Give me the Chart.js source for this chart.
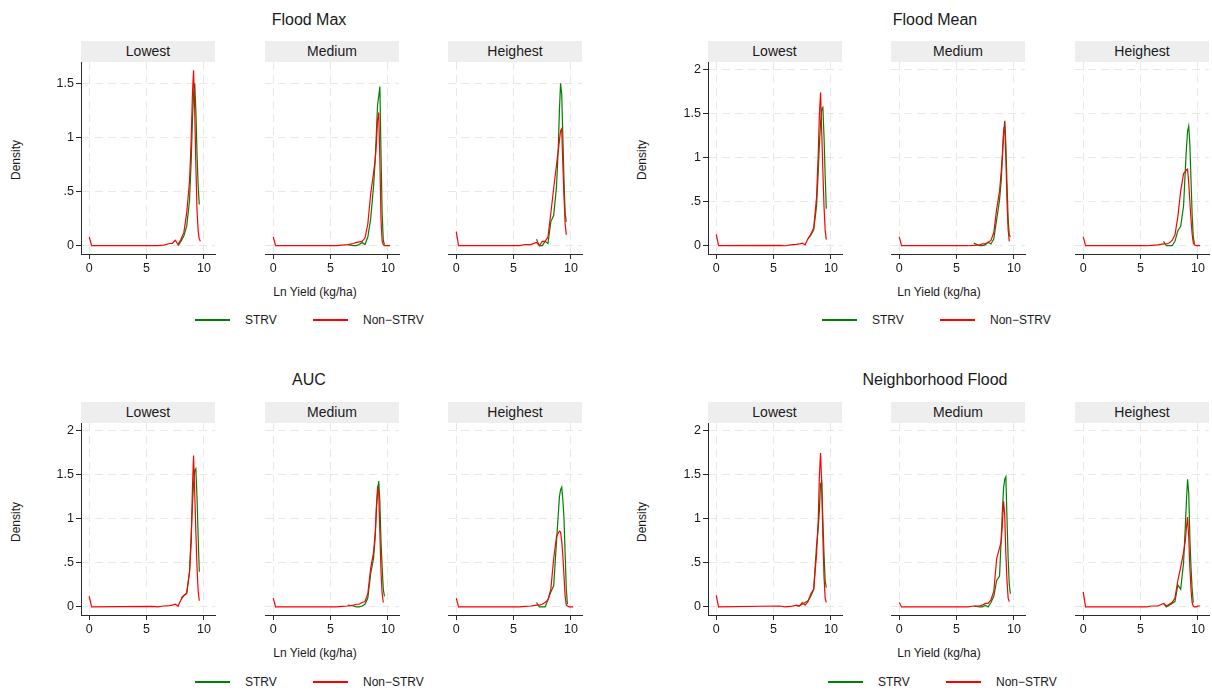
<!DOCTYPE html>
<html>
<head>
<meta charset="utf-8">
<script src="https://cdn.jsdelivr.net/npm/chart.js@4"></script>
<style>
  body { margin: 0; background: #fff; font-family: "Liberation Sans", Arial, sans-serif; color: #1a1a1a; }
  #page { position: relative; width: 1212px; height: 693px; overflow: hidden; }
  #page canvas { position: absolute; }
  .lbl { position: absolute; white-space: nowrap; transform: translate(-50%, -50%); }
  .strip { position: absolute; background: #eeeeee; font-size: 14px; text-align: center; }
  .key { position: absolute; height: 1.5px; }
  .keytxt { position: absolute; font-size: 12px; line-height: 14px; }
</style>
</head>
<body>
<div id="page"></div>
<script>
// x grid shared by every density curve (Ln Yield)
const lnYield = [0, 0.2, 5.5, 6, 6.5, 7, 7.25, 7.5, 7.75, 8, 8.25, 8.5, 8.75, 8.9, 9, 9.1, 9.2, 9.3, 9.4, 9.5, 9.6, 9.7, 9.85, 10, 10.2];

const xTicks = [0, 5, 10];
const yTicksMax = [0, 0.5, 1, 1.5];
const yTicks = [0, 0.5, 1, 1.5, 2];

const panelTitles = ["Flood Max", "Flood Mean", "AUC", "Neighborhood Flood"];
const facets = ["Lowest", "Medium", "Heighest"];
const seriesNames = ["STRV", "Non\u2212STRV"];

// Flood Max
const fmaxLowStrv = [null, null, null, null, null, null, null, null, 0.0, 0.04, 0.09, 0.18, 0.42, 0.8, 1.15, 1.4, 1.5, 1.25, 0.85, 0.55, 0.38, null, null, null, null];
const fmaxLowNon  = [0.08, 0, 0, 0, 0.005, 0.02, 0.02, 0.05, 0.01, 0.06, 0.12, 0.3, 0.6, 1.0, 1.4, 1.62, 1.25, 0.75, 0.33, 0.14, 0.06, 0.04, null, null, null];
const fmaxMedStrv = [null, null, null, null, 0.01, 0.0, 0.0, 0.01, 0.03, 0.01, 0.08, 0.25, 0.55, 0.8, 1.05, 1.3, 1.38, 1.47, 0.85, 0.3, 0.05, 0.01, null, null, null];
const fmaxMedNon  = [0.08, 0, 0, 0.005, 0.01, 0.02, 0.03, 0.035, 0.04, 0.07, 0.2, 0.48, 0.67, 0.8, 0.95, 1.16, 1.23, 0.8, 0.24, 0.04, 0.01, 0, 0, 0, 0];
const fmaxHiStrv  = [null, null, null, null, null, 0.06, 0.0, 0.0, 0.04, 0.02, 0.22, 0.28, 0.55, 0.9, 1.25, 1.5, 1.4, 1.0, 0.6, 0.3, 0.22, null, null, null, null];
const fmaxHiNon   = [0.13, 0, 0, 0.01, 0.01, 0.03, 0.0, 0.04, 0.04, 0.08, 0.3, 0.53, 0.75, 0.88, 0.97, 1.06, 1.08, 0.75, 0.45, 0.2, 0.1, null, null, null, null];

// Flood Mean
const fmeanLowStrv = [null, null, null, null, null, null, null, null, null, 0.08, 0.12, 0.18, 0.45, 0.85, 1.15, 1.4, 1.55, 1.57, 1.25, 0.8, 0.42, null, null, null, null];
const fmeanLowNon  = [0.13, 0, 0.005, 0.0, 0.01, 0.015, 0.02, 0.03, 0.01, 0.08, 0.13, 0.2, 0.55, 1.05, 1.5, 1.74, 1.3, 0.85, 0.45, 0.18, 0.07, null, null, null, null];
const fmeanMedStrv = [null, null, null, null, 0.03, 0.0, 0.0, 0.01, 0.04, 0.02, 0.08, 0.3, 0.52, 0.75, 1.0, 1.25, 1.42, 1.15, 0.7, 0.3, 0.12, 0.1, null, null, null];
const fmeanMedNon  = [0.1, 0, 0, 0, 0.005, 0.01, 0.02, 0.02, 0.04, 0.06, 0.15, 0.42, 0.62, 0.85, 1.05, 1.3, 1.37, 1.0, 0.5, 0.18, 0.05, null, null, null, null];
const fmeanHiStrv  = [null, null, null, null, null, 0.05, 0.0, 0.0, 0.0, 0.05, 0.17, 0.22, 0.45, 0.85, 1.1, 1.3, 1.36, 1.15, 0.75, 0.35, 0.1, 0.02, null, null, null];
const fmeanHiNon   = [0.1, 0, 0, 0.005, 0.01, 0.02, 0.02, 0.03, 0.06, 0.12, 0.33, 0.62, 0.82, 0.84, 0.86, 0.87, 0.72, 0.5, 0.3, 0.13, 0.03, 0.01, 0, 0, 0];

// AUC
const aucLowStrv = [null, null, null, null, null, null, null, null, null, 0.1, 0.13, 0.16, 0.4, 0.85, 1.15, 1.4, 1.55, 1.57, 1.25, 0.8, 0.4, null, null, null, null];
const aucLowNon  = [0.12, 0, 0.005, 0.0, 0.01, 0.015, 0.02, 0.03, 0.01, 0.08, 0.13, 0.15, 0.4, 0.75, 1.35, 1.72, 1.3, 0.85, 0.45, 0.18, 0.07, null, null, null, null];
const aucMedStrv = [null, null, null, null, 0.02, 0.01, 0.0, 0.0, 0.01, 0.03, 0.1, 0.38, 0.55, 0.8, 1.1, 1.3, 1.43, 1.2, 0.75, 0.45, 0.2, 0.12, null, null, null];
const aucMedNon  = [0.1, 0, 0, 0.005, 0.01, 0.02, 0.03, 0.03, 0.05, 0.06, 0.15, 0.44, 0.62, 0.85, 1.15, 1.35, 1.3, 0.85, 0.4, 0.15, 0.05, null, null, null, null];
const aucHiStrv  = [null, null, null, null, null, 0.05, 0.0, 0.0, 0.0, 0.08, 0.17, 0.24, 0.75, 1.05, 1.25, 1.33, 1.36, 1.22, 1.0, 0.6, 0.2, 0.03, null, null, null];
const aucHiNon   = [0.1, 0, 0, 0.005, 0.01, 0.02, 0.02, 0.03, 0.05, 0.08, 0.2, 0.55, 0.8, 0.84, 0.86, 0.85, 0.75, 0.58, 0.35, 0.12, 0.02, 0.01, 0, 0, 0];

// Neighborhood Flood
const nbLowStrv = [null, null, null, null, null, 0.01, 0.01, 0.03, 0.05, 0.07, 0.12, 0.2, 0.7, 0.9, 1.1, 1.4, 1.42, 1.0, 0.6, 0.3, 0.22, null, null, null, null];
const nbLowNon  = [0.13, 0, 0.01, 0.0, 0.005, 0.02, 0.01, 0.05, 0.02, 0.06, 0.15, 0.2, 0.6, 1.0, 1.5, 1.75, 1.4, 0.8, 0.35, 0.1, 0.05, null, null, null, null];
const nbMedStrv = [null, null, null, null, 0.01, 0.0, 0.0, 0.02, 0.0, 0.05, 0.12, 0.3, 0.35, 0.8, 1.1, 1.35, 1.45, 1.48, 1.0, 0.55, 0.25, 0.15, null, null, null];
const nbMedNon  = [0.05, 0, 0, 0, 0.01, 0.01, 0.02, 0.04, 0.04, 0.08, 0.18, 0.55, 0.67, 0.75, 0.95, 1.2, 1.05, 0.6, 0.3, 0.1, 0.06, null, null, null, null];
const nbHiStrv  = [null, null, null, null, null, 0.04, 0.0, 0.02, 0.04, 0.06, 0.25, 0.2, 0.5, 0.9, 1.2, 1.45, 1.3, 0.8, 0.45, 0.2, 0.05, null, null, null, null];
const nbHiNon   = [0.17, 0, 0, 0.01, 0.01, 0.04, 0.01, 0.03, 0.05, 0.1, 0.3, 0.45, 0.62, 0.75, 0.9, 1.02, 0.8, 0.45, 0.2, 0.05, 0.01, 0, 0, 0.01, 0.01];

const GREEN = "#008000";
const RED = "#ff0000";
const AXIS = "#2a2a2a";
const GRID = "#e8e8e8";
const PAD = 14;
const AXIS_W = 40;
const X_AXIS_H = 30;
const FACET_W = 134;
const PLOT_H = 192;
const X_MIN = -0.72;
const X_MAX = 10.97;

Chart.defaults.font.family = '"Liberation Sans", Arial, sans-serif';
Chart.defaults.color = "#1a1a1a";

const page = document.getElementById("page");

const panels = [
  { title: panelTitles[0], lefts: [81, 265, 448], top: 62, yMin: -0.077, yMax: 1.697, ticks: yTicksMax,
    series: [[fmaxLowStrv, fmaxLowNon], [fmaxMedStrv, fmaxMedNon], [fmaxHiStrv, fmaxHiNon]],
    titleX: 309, titleY: 20, densX: 16, densY: 160, xTitleX: 315, xTitleY: 292, keyX: 195, keyY: 320 },
  { title: panelTitles[1], lefts: [707.5, 891, 1075], top: 62, yMin: -0.094, yMax: 2.087, ticks: yTicks,
    series: [[fmeanLowStrv, fmeanLowNon], [fmeanMedStrv, fmeanMedNon], [fmeanHiStrv, fmeanHiNon]],
    titleX: 935, titleY: 20, densX: 642, densY: 160, xTitleX: 939, xTitleY: 292, keyX: 822, keyY: 320 },
  { title: panelTitles[2], lefts: [81, 265, 448], top: 423, yMin: -0.092, yMax: 2.09, ticks: yTicks,
    series: [[aucLowStrv, aucLowNon], [aucMedStrv, aucMedNon], [aucHiStrv, aucHiNon]],
    titleX: 309, titleY: 380, densX: 16, densY: 522, xTitleX: 315, xTitleY: 653, keyX: 195, keyY: 682 },
  { title: panelTitles[3], lefts: [707.5, 891, 1075], top: 423, yMin: -0.092, yMax: 2.09, ticks: yTicks,
    series: [[nbLowStrv, nbLowNon], [nbMedStrv, nbMedNon], [nbHiStrv, nbHiNon]],
    titleX: 935, titleY: 380, densX: 642, densY: 522, xTitleX: 939, xTitleY: 653, keyX: 828, keyY: 682 }
];

function addLabel(text, x, y, size, rotate) {
  const el = document.createElement("div");
  el.className = "lbl";
  el.textContent = text;
  el.style.left = x + "px";
  el.style.top = y + "px";
  el.style.fontSize = size + "px";
  if (rotate) el.style.transform = "translate(-50%, -50%) rotate(-90deg)";
  page.appendChild(el);
}

function toPoints(ys) {
  return lnYield.map((x, i) => ({ x: x, y: ys[i] }));
}

function drawFacet(x0, top, panel, idx) {
  const first = idx === 0;
  const extra = first ? AXIS_W : 0;
  const c = document.createElement("canvas");
  const w = FACET_W + extra + 2 * PAD;
  const h = PLOT_H + PAD + X_AXIS_H;
  c.width = w;
  c.height = h;
  c.style.width = w + "px";
  c.style.height = h + "px";
  c.style.left = (x0 - extra - PAD) + "px";
  c.style.top = (top - PAD) + "px";
  page.appendChild(c);

  const strip = document.createElement("div");
  strip.className = "strip";
  strip.textContent = facets[idx];
  strip.style.left = x0 + "px";
  strip.style.top = (top - 21) + "px";
  strip.style.width = FACET_W + "px";
  strip.style.height = "21px";
  strip.style.lineHeight = "21px";
  page.appendChild(strip);

  const [strv, non] = panel.series[idx];

  new Chart(c, {
    type: "line",
    data: {
      datasets: [
        { label: seriesNames[1], data: toPoints(non), borderColor: RED },
        { label: seriesNames[0], data: toPoints(strv), borderColor: GREEN }
      ]
    },
    options: {
      responsive: false,
      animation: false,
      events: [],
      layout: { padding: { left: PAD, right: PAD, top: PAD, bottom: 0 } },
      plugins: { legend: { display: false }, tooltip: { enabled: false } },
      elements: { point: { radius: 0 }, line: { borderWidth: 1.2, tension: 0 } },
      scales: {
        x: {
          type: "linear",
          min: X_MIN,
          max: X_MAX,
          afterBuildTicks: s => { s.ticks = xTicks.map(v => ({ value: v })); },
          afterFit: s => { s.height = X_AXIS_H; },
          grid: { color: GRID, tickColor: AXIS, tickLength: 5, tickBorderDash: [] },
          border: { color: AXIS, width: 1, dash: [8, 5] },
          ticks: { font: { size: 12.5 }, color: "#1a1a1a", padding: 2, maxRotation: 0, autoSkip: false }
        },
        y: {
          type: "linear",
          min: panel.yMin,
          max: panel.yMax,
          afterBuildTicks: s => { s.ticks = panel.ticks.map(v => ({ value: v })); },
          afterFit: s => { s.width = extra; },
          grid: { color: GRID, tickColor: AXIS, tickLength: 5, drawTicks: first, tickBorderDash: [] },
          border: { display: first, color: AXIS, width: 1, dash: [8, 5] },
          ticks: {
            display: first,
            font: { size: 12.5 },
            color: "#1a1a1a",
            padding: 2,
            autoSkip: false,
            callback: v => (v === 0.5 ? ".5" : String(v))
          }
        }
      }
    }
  });
}

function drawKey(x, y) {
  const items = [[GREEN, 0, seriesNames[0]], [RED, 118, seriesNames[1]]];
  items.forEach(([color, dx, name]) => {
    const line = document.createElement("div");
    line.className = "key";
    line.style.background = color;
    line.style.left = (x + dx) + "px";
    line.style.top = (y - 1) + "px";
    line.style.width = "35px";
    page.appendChild(line);

    const txt = document.createElement("div");
    txt.className = "keytxt";
    txt.textContent = name;
    txt.style.left = (x + dx + 50) + "px";
    txt.style.top = (y - 7) + "px";
    page.appendChild(txt);
  });
}

panels.forEach(p => {
  addLabel(p.title, p.titleX, p.titleY, 16);
  addLabel("Density", p.densX, p.densY, 12, true);
  addLabel("Ln Yield (kg/ha)", p.xTitleX, p.xTitleY, 12);
  p.lefts.forEach((x0, i) => drawFacet(x0, p.top, p, i));
  drawKey(p.keyX, p.keyY);
});
</script>
</body>
</html>
